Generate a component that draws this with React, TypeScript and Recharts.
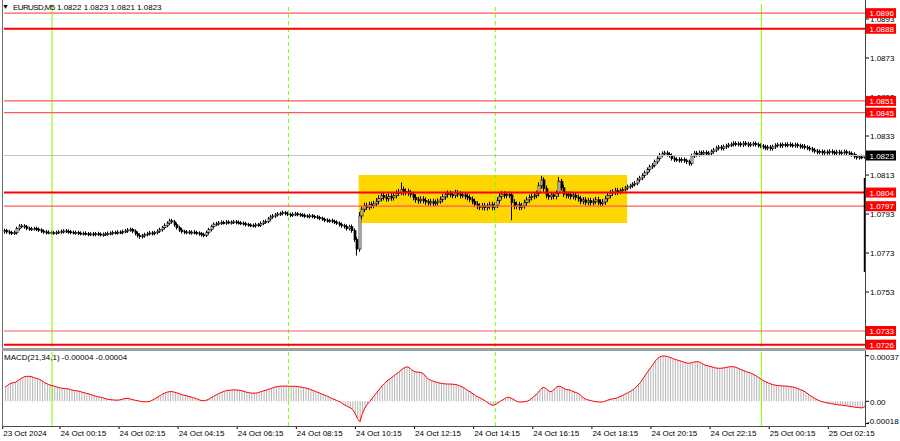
import React from 'react';
import { ComposedChart, Bar, Line, XAxis, YAxis, ReferenceLine, ReferenceArea } from 'recharts';

// EURUSD M5, first bar 23 Oct 22:25, last bar 25 Oct 03:30.
// Prices are kept in pips above 1.0700 (84.5 -> 1.07845).
const opens = [
  84.0, 84.5, 83.8, 83.5, 83.2, 83.4, 85.5, 86.8, 86.9, 86.5,
  85.6, 85.3, 85.4, 85.5, 85.2, 84.8, 84.2, 83.8, 83.5, 83.6,
  83.4, 83.3, 83.6, 83.8, 84.0, 84.3, 84.2, 83.9, 83.6, 83.4,
  83.5, 83.2, 83.0, 83.1, 82.9, 82.6, 82.8, 82.5, 82.9, 82.7,
  82.4, 82.6, 82.8, 83.0, 83.2, 83.5, 83.4, 83.7, 83.6, 84.0,
  84.3, 84.8, 85.0, 84.2, 83.0, 82.0, 81.4, 81.8, 82.5, 82.9,
  83.3, 83.0, 83.5, 84.2, 85.0, 86.0, 87.2, 88.3, 89.5, 89.0,
  87.5, 86.0, 84.8, 84.0, 83.6, 83.8, 83.4, 83.7, 83.5, 83.2,
  82.9, 82.4, 82.1, 83.5, 85.0, 86.5, 87.8, 88.0, 88.4, 88.7,
  88.5, 88.9, 88.6, 88.8, 89.0, 88.7, 88.5, 88.3, 88.0, 87.6,
  87.4, 87.2, 87.0, 87.5, 87.3, 88.2, 88.9, 89.2, 90.5, 91.5,
  92.0, 92.6, 93.0, 93.2, 93.7, 93.3, 92.8, 92.4, 92.9, 93.1,
  92.7, 92.5, 92.3, 92.0, 91.8, 92.1, 91.7, 91.5, 91.2, 90.8,
  90.3, 89.8, 89.5, 89.7, 89.2, 88.8, 88.3, 87.5, 87.0, 86.5,
  85.5, 86.5, 84.5, 80.0, 75.0, 92.0, 95.5, 97.2, 96.5, 97.8,
  97.3, 98.2, 99.5, 101.0, 102.5, 101.5, 100.8, 102.0, 101.3, 102.5,
  103.6, 104.2, 105.5, 104.0, 104.5, 103.8, 103.0, 101.5, 100.3, 99.8,
  100.6, 100.0, 99.2, 98.7, 99.3, 98.5, 98.9, 99.6, 100.5, 101.8,
  102.9, 103.5, 103.0, 102.6, 103.8, 103.2, 102.5, 102.8, 102.0, 101.5,
  100.5, 99.5, 98.0, 97.0, 96.5, 97.2, 96.3, 97.0, 97.8, 96.5,
  97.5, 100.0, 102.0, 103.2, 102.5, 103.0, 102.8, 99.0, 97.0, 97.8,
  96.5, 97.2, 98.8, 100.3, 101.5, 102.0, 102.6, 103.5, 107.5, 110.5,
  106.0, 102.5, 101.8, 102.8, 102.0, 103.5, 109.8, 106.5, 103.2, 102.5,
  103.0, 102.0, 102.7, 101.5, 100.8, 99.5, 100.2, 99.0, 99.8, 98.8,
  99.5, 100.3, 99.0, 98.3, 99.2, 100.8, 102.5, 103.8, 104.2, 104.9,
  104.3, 105.0, 105.6, 106.3, 107.0, 107.5, 108.2, 108.8, 110.5, 111.5,
  112.8, 114.2, 115.8, 117.2, 118.0, 119.8, 121.5, 123.2, 124.0, 124.3,
  123.6, 123.0, 121.5, 120.8, 121.0, 120.5, 120.9, 120.3, 119.8, 118.9,
  122.8, 124.2, 123.5, 124.4, 123.8, 124.6, 123.9, 124.2, 125.0, 125.8,
  126.8, 127.3, 126.7, 127.5, 128.0, 128.4, 128.7, 129.2, 128.8, 129.0,
  128.5, 129.3, 128.9, 128.4, 128.8, 129.1, 128.6, 128.2, 127.8, 127.4,
  126.8, 127.3, 126.6, 127.5, 128.2, 128.5, 128.0, 128.6, 128.3, 128.7,
  128.4, 128.1, 128.5, 128.0, 127.6, 127.8, 127.2, 126.8, 126.3, 125.8,
  125.2, 124.7, 125.0, 124.4, 124.8, 124.5, 125.1, 124.6, 124.3, 124.8,
  124.2, 124.6, 124.9, 124.3, 124.0, 123.5, 122.5, 122.0, 122.3, 122.2,
];

const highs = [
  85.5, 85.4, 84.8, 84.4, 84.5, 86.5, 87.8, 87.9, 87.8, 87.4,
  86.5, 86.4, 86.4, 86.5, 86.1, 85.7, 85.1, 84.8, 84.6, 84.5,
  84.3, 84.5, 84.7, 85.0, 85.2, 85.3, 85.1, 84.8, 84.5, 84.5,
  84.4, 84.1, 84.0, 84.1, 83.8, 83.7, 83.8, 83.8, 83.9, 83.6,
  83.5, 83.8, 84.0, 84.1, 84.5, 84.4, 84.7, 84.6, 85.0, 85.3,
  85.8, 86.0, 85.9, 85.1, 84.0, 83.0, 82.8, 83.4, 83.9, 84.3,
  84.3, 84.4, 85.1, 86.0, 86.9, 88.2, 89.3, 90.6, 90.5, 90.0,
  88.4, 87.0, 85.8, 84.9, 84.8, 84.7, 84.6, 84.7, 84.4, 84.1,
  83.8, 83.4, 84.4, 85.9, 87.5, 88.7, 89.0, 89.4, 89.7, 89.6,
  89.9, 89.8, 89.7, 90.0, 89.9, 89.7, 89.4, 89.2, 89.0, 88.5,
  88.3, 88.1, 88.5, 88.4, 89.2, 89.9, 90.2, 91.5, 92.5, 93.0,
  93.6, 94.0, 94.2, 94.7, 94.6, 94.2, 93.7, 93.9, 94.1, 94.0,
  93.6, 93.4, 93.3, 92.9, 93.1, 93.0, 92.6, 92.5, 92.1, 91.7,
  91.2, 90.8, 90.6, 90.7, 90.1, 89.8, 89.2, 88.6, 88.0, 87.6,
  87.5, 87.6, 85.6, 81.1, 94.0, 97.2, 98.8, 98.8, 99.4, 99.3,
  99.8, 101.2, 102.6, 104.4, 104.2, 103.2, 103.6, 103.7, 104.1, 105.2,
  105.9, 109.2, 107.1, 106.2, 106.0, 105.3, 104.5, 103.0, 101.8, 102.1,
  102.1, 101.5, 100.7, 100.8, 100.8, 100.4, 101.1, 102.0, 103.3, 104.4,
  105.1, 105.0, 104.5, 105.4, 105.3, 104.7, 104.3, 104.2, 103.5, 103.0,
  102.0, 101.0, 99.5, 98.5, 98.7, 98.7, 98.5, 99.3, 99.3, 99.0,
  101.6, 103.6, 104.8, 104.7, 104.5, 104.5, 104.3, 100.6, 99.4, 99.3,
  98.7, 100.3, 101.8, 103.0, 103.5, 104.1, 105.0, 109.3, 112.6, 111.8,
  107.6, 104.0, 104.3, 104.3, 105.1, 112.0, 111.0, 108.0, 104.7, 104.5,
  104.5, 104.2, 104.2, 103.0, 102.3, 101.7, 101.7, 101.3, 101.3, 101.0,
  101.8, 101.8, 100.5, 100.7, 102.3, 104.0, 105.3, 105.7, 106.4, 106.4,
  106.1, 106.7, 107.4, 108.1, 108.6, 109.3, 109.9, 111.6, 112.6, 113.9,
  115.3, 116.9, 118.3, 119.1, 120.9, 122.6, 124.3, 125.1, 125.4, 125.4,
  124.7, 124.1, 122.6, 122.1, 122.1, 122.0, 122.0, 121.4, 120.9, 123.9,
  125.3, 125.3, 125.5, 125.5, 125.7, 125.7, 125.3, 126.1, 126.9, 127.9,
  128.4, 128.4, 128.6, 129.1, 129.5, 129.8, 130.3, 130.3, 130.1, 130.1,
  130.4, 130.4, 130.0, 129.9, 130.2, 130.2, 129.7, 129.3, 128.9, 128.5,
  128.4, 128.4, 128.6, 129.3, 129.6, 129.6, 129.7, 129.7, 129.8, 129.8,
  129.5, 129.6, 129.6, 129.1, 128.9, 128.9, 128.3, 127.9, 127.4, 126.9,
  126.3, 126.1, 126.1, 125.9, 125.9, 126.2, 126.2, 125.7, 125.9, 125.9,
  125.7, 126.0, 126.0, 125.4, 125.1, 124.6, 123.6, 123.4, 123.4, 123.0,
];

const lows = [
  83.0, 82.8, 82.5, 82.2, 82.3, 82.5, 84.5, 85.8, 85.5, 84.7,
  84.4, 84.3, 84.5, 84.2, 83.8, 83.3, 82.9, 82.5, 82.6, 82.4,
  82.4, 82.3, 82.7, 82.9, 83.0, 83.3, 82.9, 82.6, 82.5, 82.4,
  82.2, 82.1, 82.0, 82.0, 81.6, 81.7, 81.5, 81.6, 81.7, 81.5,
  81.4, 81.7, 81.8, 82.1, 82.2, 82.5, 82.4, 82.7, 82.6, 83.1,
  83.3, 83.9, 83.2, 82.0, 81.0, 80.3, 80.4, 80.9, 81.5, 82.0,
  82.0, 82.1, 82.5, 83.3, 84.0, 85.1, 86.2, 87.4, 88.0, 86.5,
  85.0, 83.8, 83.0, 82.7, 82.6, 82.5, 82.4, 82.6, 82.2, 81.9,
  81.4, 81.1, 81.2, 82.5, 84.0, 85.6, 86.8, 87.1, 87.4, 87.6,
  87.5, 87.7, 87.6, 87.9, 87.7, 87.6, 87.3, 87.1, 86.6, 86.5,
  86.2, 86.1, 86.0, 86.4, 86.3, 87.3, 87.9, 88.3, 89.5, 90.6,
  91.0, 91.7, 92.0, 92.3, 92.3, 91.9, 91.4, 91.5, 91.9, 91.8,
  91.5, 91.4, 91.0, 90.9, 90.8, 90.8, 90.5, 90.3, 89.8, 89.4,
  88.8, 88.6, 88.5, 88.3, 87.8, 87.4, 86.5, 86.0, 85.5, 84.5,
  84.5, 83.4, 78.7, 71.7, 73.6, 90.4, 94.0, 95.0, 95.1, 95.9,
  95.9, 96.8, 98.0, 99.5, 100.0, 99.3, 99.4, 99.8, 99.9, 101.0,
  102.1, 102.7, 102.5, 102.6, 102.3, 101.5, 100.0, 98.8, 98.3, 98.4,
  98.5, 97.7, 97.2, 97.3, 97.0, 97.1, 97.4, 98.2, 99.0, 100.3,
  101.4, 101.5, 101.1, 101.1, 101.7, 101.0, 101.1, 100.5, 100.0, 99.0,
  98.0, 96.5, 95.5, 95.0, 95.0, 94.8, 94.8, 95.5, 94.9, 95.0,
  96.0, 98.5, 100.5, 101.0, 101.0, 101.3, 89.8, 95.4, 95.5, 95.0,
  95.0, 95.7, 97.3, 98.8, 100.0, 100.5, 101.1, 102.0, 106.0, 104.4,
  101.0, 100.3, 100.3, 100.5, 100.5, 102.0, 105.0, 101.7, 101.0, 101.0,
  100.5, 100.5, 100.0, 99.3, 98.0, 98.0, 97.5, 97.5, 97.3, 97.3,
  98.0, 97.5, 96.8, 96.8, 97.7, 99.3, 101.0, 102.3, 102.7, 102.8,
  103.2, 103.9, 104.5, 105.2, 105.9, 106.4, 107.1, 107.7, 109.4, 110.4,
  111.7, 113.1, 114.7, 116.1, 116.9, 118.7, 120.4, 122.1, 122.9, 122.5,
  121.9, 120.4, 119.7, 119.7, 119.4, 119.4, 119.2, 118.7, 117.8, 117.8,
  121.7, 122.4, 122.4, 122.7, 122.7, 122.8, 122.8, 123.1, 123.9, 124.7,
  125.7, 125.6, 125.6, 126.4, 126.9, 127.3, 127.6, 127.7, 127.7, 127.4,
  127.4, 127.8, 127.3, 127.3, 127.7, 127.5, 127.1, 126.7, 126.3, 125.7,
  125.7, 125.5, 125.5, 126.4, 127.1, 126.9, 126.9, 127.2, 127.2, 127.3,
  127.0, 127.0, 126.9, 126.5, 126.5, 126.1, 125.7, 125.2, 124.7, 124.1,
  123.6, 123.6, 123.3, 123.3, 123.4, 123.4, 123.5, 123.2, 123.2, 123.1,
  123.1, 123.5, 123.2, 122.9, 122.4, 121.4, 120.9, 120.9, 121.1, 121.4,
];

const closes = [
  84.5, 83.8, 83.5, 83.2, 83.4, 85.5, 86.8, 86.9, 86.5, 85.6,
  85.3, 85.4, 85.5, 85.2, 84.8, 84.2, 83.8, 83.5, 83.6, 83.4,
  83.3, 83.6, 83.8, 84.0, 84.3, 84.2, 83.9, 83.6, 83.4, 83.5,
  83.2, 83.0, 83.1, 82.9, 82.6, 82.8, 82.5, 82.9, 82.7, 82.4,
  82.6, 82.8, 83.0, 83.2, 83.5, 83.4, 83.7, 83.6, 84.0, 84.3,
  84.8, 85.0, 84.2, 83.0, 82.0, 81.4, 81.8, 82.5, 82.9, 83.3,
  83.0, 83.5, 84.2, 85.0, 86.0, 87.2, 88.3, 89.5, 89.0, 87.5,
  86.0, 84.8, 84.0, 83.6, 83.8, 83.4, 83.7, 83.5, 83.2, 82.9,
  82.4, 82.1, 83.5, 85.0, 86.5, 87.8, 88.0, 88.4, 88.7, 88.5,
  88.9, 88.6, 88.8, 89.0, 88.7, 88.5, 88.3, 88.0, 87.6, 87.4,
  87.2, 87.0, 87.5, 87.3, 88.2, 88.9, 89.2, 90.5, 91.5, 92.0,
  92.6, 93.0, 93.2, 93.7, 93.3, 92.8, 92.4, 92.9, 93.1, 92.7,
  92.5, 92.3, 92.0, 91.8, 92.1, 91.7, 91.5, 91.2, 90.8, 90.3,
  89.8, 89.5, 89.7, 89.2, 88.8, 88.3, 87.5, 87.0, 86.5, 85.5,
  86.5, 84.5, 80.0, 75.0, 92.0, 95.5, 97.2, 96.5, 97.8, 97.3,
  98.2, 99.5, 101.0, 102.5, 101.5, 100.8, 102.0, 101.3, 102.5, 103.6,
  104.2, 105.5, 104.0, 104.5, 103.8, 103.0, 101.5, 100.3, 99.8, 100.6,
  100.0, 99.2, 98.7, 99.3, 98.5, 98.9, 99.6, 100.5, 101.8, 102.9,
  103.5, 103.0, 102.6, 103.8, 103.2, 102.5, 102.8, 102.0, 101.5, 100.5,
  99.5, 98.0, 97.0, 96.5, 97.2, 96.3, 97.0, 97.8, 96.5, 97.5,
  100.0, 102.0, 103.2, 102.5, 103.0, 102.8, 99.0, 97.0, 97.8, 96.5,
  97.2, 98.8, 100.3, 101.5, 102.0, 102.6, 103.5, 107.5, 110.5, 106.0,
  102.5, 101.8, 102.8, 102.0, 103.5, 109.8, 106.5, 103.2, 102.5, 103.0,
  102.0, 102.7, 101.5, 100.8, 99.5, 100.2, 99.0, 99.8, 98.8, 99.5,
  100.3, 99.0, 98.3, 99.2, 100.8, 102.5, 103.8, 104.2, 104.9, 104.3,
  105.0, 105.6, 106.3, 107.0, 107.5, 108.2, 108.8, 110.5, 111.5, 112.8,
  114.2, 115.8, 117.2, 118.0, 119.8, 121.5, 123.2, 124.0, 124.3, 123.6,
  123.0, 121.5, 120.8, 121.0, 120.5, 120.9, 120.3, 119.8, 118.9, 122.8,
  124.2, 123.5, 124.4, 123.8, 124.6, 123.9, 124.2, 125.0, 125.8, 126.8,
  127.3, 126.7, 127.5, 128.0, 128.4, 128.7, 129.2, 128.8, 129.0, 128.5,
  129.3, 128.9, 128.4, 128.8, 129.1, 128.6, 128.2, 127.8, 127.4, 126.8,
  127.3, 126.6, 127.5, 128.2, 128.5, 128.0, 128.6, 128.3, 128.7, 128.4,
  128.1, 128.5, 128.0, 127.6, 127.8, 127.2, 126.8, 126.3, 125.8, 125.2,
  124.7, 125.0, 124.4, 124.8, 124.5, 125.1, 124.6, 124.3, 124.8, 124.2,
  124.6, 124.9, 124.3, 124.0, 123.5, 122.5, 122.0, 122.3, 122.2, 123.0,
];

// MACD(21,34,1) main value per bar, in units of 0.00001
const macdValues = [
  11.8, 13.0, 14.5, 15.0, 15.3, 16.5, 18.0, 19.2, 20.0, 20.3,
  20.2, 19.8, 19.0, 18.5, 17.8, 16.5, 15.2, 14.2, 13.4, 12.8,
  12.2, 11.6, 11.0, 10.6, 10.4, 10.3, 9.8, 9.2, 8.8, 8.5,
  8.2, 7.6, 7.0, 6.5, 6.0, 5.3, 4.6, 4.0, 3.6, 3.2,
  2.6, 2.0, 1.6, 1.3, 1.1, 1.0, 1.0, 1.4, 2.0, 2.4,
  2.4, 1.8, 1.2, 0.8, 0.4, 0.0, -0.3, -0.4, -0.3, 0.2,
  1.2, 2.4, 3.6, 4.8, 6.0, 7.0, 7.6, 7.9, 7.8, 7.3,
  6.6, 6.0, 5.3, 4.8, 4.3, 3.8, 3.2, 2.6, 1.8, 1.0,
  0.6, 0.5, 1.2, 2.2, 3.4, 4.6, 5.6, 6.6, 7.4, 8.2,
  8.8, 9.0, 9.2, 9.3, 9.2, 9.0, 8.6, 8.0, 7.4, 6.9,
  6.7, 6.6, 6.8, 7.3, 7.9, 8.6, 9.2, 9.8, 10.5, 11.2,
  11.8, 12.1, 12.3, 12.4, 12.4, 12.3, 12.2, 12.2, 12.1, 11.9,
  11.6, 11.2, 10.8, 10.3, 9.6, 8.8, 8.0, 7.2, 6.4, 5.6,
  4.8, 4.0, 3.0, 2.0, 1.2, 0.4, -0.6, -2.0, -3.2, -4.2,
  -5.2, -6.5, -9.5, -14.0, -16.5, -10.0, -5.5, -2.5, -0.2, 2.5,
  5.0, 7.5, 10.0, 12.5, 14.6, 16.5, 18.0, 19.5, 21.0, 22.5,
  24.0, 25.8, 27.2, 28.0, 27.5, 25.5, 24.2, 23.8, 23.6, 23.3,
  22.0, 19.5, 17.8, 17.0, 16.2, 15.5, 15.0, 14.6, 14.3, 14.1,
  14.0, 14.0, 13.8, 13.6, 13.0, 12.2, 11.2, 10.0, 8.6, 7.4,
  6.0, 4.6, 3.5, 2.6, 1.5, 0.2, -1.2, -2.5, -3.2, -2.6,
  -1.4, 0.0, 1.2, 2.4, 3.4, 3.0, 2.0, 0.8, -0.3, -0.6,
  -0.5, -0.2, 0.2, 1.2, 2.8, 4.6, 6.2, 8.5, 11.0, 11.3,
  9.5, 8.0, 7.8, 10.0, 11.8, 12.2, 11.5, 10.2, 9.5, 9.3,
  8.5, 7.6, 7.0, 6.0, 4.2, 2.5, 1.5, 1.0, 0.5, 0.0,
  -0.3, -0.5, -0.6, -0.3, 0.5, 1.2, 1.8, 2.2, 2.5, 3.3,
  4.2, 5.2, 6.2, 7.2, 8.2, 9.6, 11.4, 13.2, 15.5, 18.5,
  21.5, 24.5, 27.2, 30.0, 32.8, 35.0, 36.3, 36.8, 36.7, 36.2,
  35.6, 34.8, 34.0, 33.4, 32.8, 32.2, 31.5, 31.0, 30.9, 31.5,
  32.0, 32.2, 31.8, 30.6, 29.6, 28.9, 28.4, 27.9, 27.3, 26.9,
  26.8, 26.9, 27.2, 27.6, 28.0, 28.1, 28.0, 27.4, 26.4, 25.5,
  24.8, 24.0, 23.4, 22.7, 21.6, 20.5, 19.2, 17.8, 16.6, 15.6,
  14.8, 14.0, 13.4, 13.0, 12.8, 12.6, 12.4, 12.3, 12.2, 11.8,
  11.5, 11.0, 10.2, 9.4, 8.6, 7.4, 6.0, 4.5, 3.2, 2.0,
  1.0, 0.2, -0.5, -1.0, -1.4, -1.8, -2.1, -2.4, -2.7, -3.0,
  -3.2, -3.5, -3.8, -4.1, -4.4, -4.7, -5.0, -5.2, -5.3, -4.4,
];

const thickLevels = [1.0888, 1.0804, 1.0726];
const thinLevels = [1.0896, 1.0851, 1.0845, 1.0797, 1.0733];
const lastPrice = 1.0823;
const priceTicks = [1.0893, 1.0873, 1.0853, 1.0833, 1.0813, 1.0793, 1.0773, 1.0753];
const macdTicks = [0.00037, 0, -0.00018];

const dayLines = ['24 Oct 00:00', '25 Oct 00:00'];
const sessionLines = ['24 Oct 08:00', '24 Oct 15:00'];
const boxFrom = '24 Oct 10:25';
const boxTo = '24 Oct 19:25';
const boxTop = 1.0813;
const boxBottom = 1.07884;

const timeTicks = [
  '23 Oct 22:25', '24 Oct 00:15', '24 Oct 02:15', '24 Oct 04:15', '24 Oct 06:15',
  '24 Oct 08:15', '24 Oct 10:15', '24 Oct 12:15', '24 Oct 14:15', '24 Oct 16:15',
  '24 Oct 18:15', '24 Oct 20:15', '24 Oct 22:15', '25 Oct 00:15', '25 Oct 02:15',
];
const timeTickLabels = [
  '23 Oct 2024', '24 Oct 00:15', '24 Oct 02:15', '24 Oct 04:15', '24 Oct 06:15',
  '24 Oct 08:15', '24 Oct 10:15', '24 Oct 12:15', '24 Oct 14:15', '24 Oct 16:15',
  '24 Oct 18:15', '24 Oct 20:15', '24 Oct 22:15', '25 Oct 00:15', '25 Oct 02:15',
];

const FONT = "'Liberation Sans', Arial, sans-serif";
const GREEN = '#7cfc00';
const FIRST_BAR_MIN = 22 * 60 + 25; // 23 Oct 22:25

const pad = (n: number) => String(n).padStart(2, '0');
const barTime = (i: number) => {
  const m = FIRST_BAR_MIN + i * 5;
  const r = m % 1440;
  return `${23 + Math.floor(m / 1440)} Oct ${pad(Math.floor(r / 60))}:${pad(r % 60)}`;
};
const price = (pips: number) => 1.07 + pips / 10000;

const candles = closes.map((c, i) => ({
  time: barTime(i),
  open: price(opens[i]),
  high: price(highs[i]),
  low: price(lows[i]),
  close: price(c),
  range: [price(lows[i]), price(highs[i])],
}));

const macdData = macdValues.map((m, i) => ({ time: barTime(i), macd: m / 100000 }));
const lastTime = candles[candles.length - 1].time;

const Candle = (props: any) => {
  const { x, y, width, height, payload } = props;
  const top = Math.min(y, y + height);
  const h = Math.abs(height);
  const span = payload.high - payload.low || 1e-9;
  const yOf = (p: number) => top + ((payload.high - p) / span) * h;
  const cx = Math.round(x + width / 2);
  const b1 = yOf(Math.max(payload.open, payload.close));
  const b2 = yOf(Math.min(payload.open, payload.close));
  const bull = payload.close >= payload.open;
  return (
    <g>
      <line x1={cx - 0.5} x2={cx - 0.5} y1={top} y2={top + h} stroke="#000" strokeWidth={1} />
      <rect
        x={cx - 1}
        y={b1}
        width={2}
        height={Math.max(b2 - b1, 1)}
        fill={bull ? '#fff' : '#000'}
        stroke="#000"
        strokeWidth={0.7}
      />
    </g>
  );
};

const PriceTick = (props: any) => {
  const { x, y, payload } = props;
  const v = payload.value;
  const text = v.toFixed(4);
  if (v === lastPrice || thickLevels.includes(v) || thinLevels.includes(v)) {
    return (
      <g>
        <rect x={x} y={y - 5} width={30} height={10} fill={v === lastPrice ? '#000' : '#ff0000'} />
        <text x={x + 3.5} y={y + 3} fontSize={8} fontFamily={FONT} fill="#fff">{text}</text>
      </g>
    );
  }
  return (
    <g>
      <line x1={x} x2={x + 3} y1={y} y2={y} stroke="#000" />
      <text x={x + 4} y={y + 3} fontSize={8} fontFamily={FONT} fill="#000">{text}</text>
    </g>
  );
};

const MacdTick = (props: any) => {
  const { x, y, payload } = props;
  const v = payload.value;
  const text = v === 0 ? '0.00' : v.toFixed(5);
  const dy = v < 0 ? -2.5 : v > 0 ? 1 : 0.5;
  return (
    <g>
      <line x1={x} x2={x + 3} y1={y} y2={y} stroke="#000" />
      <text x={v < 0 ? x + 1 : x + 4} y={y + 3 + dy} fontSize={8} fontFamily={FONT} fill="#000">{text}</text>
    </g>
  );
};

const TimeTick = (props: any) => {
  const { x, y, payload } = props;
  const idx = timeTicks.indexOf(payload.value);
  const tx = idx === 0 ? x - 3 : x;
  return (
    <g>
      <line x1={tx + 0.5} x2={tx + 0.5} y1={y} y2={y + 3} stroke="#000" />
      <text x={tx + 1} y={y + 10} fontSize={8} fontFamily={FONT} fill="#000">{timeTickLabels[idx]}</text>
    </g>
  );
};

const abs = (style: React.CSSProperties): React.CSSProperties => ({ position: 'absolute', ...style });

export default function App() {
  return (
    <div style={{ position: 'absolute', left: 0, top: 0, width: 900, height: 441, background: '#fff', overflow: 'hidden', fontFamily: FONT }}>
      <div style={abs({ left: 0, top: 0 })}>
        <ComposedChart width={900} height={352} data={candles} margin={{ top: 4, right: 0, bottom: 5, left: 4 }} barCategoryGap={0}>
          <XAxis dataKey="time" hide />
          <YAxis
            orientation="right"
            width={34}
            domain={[1.07248, 1.09007]}
            allowDataOverflow
            ticks={[...priceTicks, ...thinLevels, ...thickLevels, lastPrice]}
            interval={0}
            tick={<PriceTick />}
            tickSize={0}
            tickMargin={0}
            axisLine={false}
            tickLine={false}
          />
          <ReferenceArea x1={boxFrom} x2={boxTo} y1={boxBottom} y2={boxTop} fill="#ffd700" fillOpacity={1} stroke="none" />
          <ReferenceLine y={lastPrice} stroke="#c4c4c4" strokeWidth={1} />
          {dayLines.map((t) => (
            <ReferenceLine key={t} x={t} stroke={GREEN} strokeWidth={1} />
          ))}
          {sessionLines.map((t) => (
            <ReferenceLine key={t} x={t} stroke={GREEN} strokeWidth={1} strokeDasharray="4 3" />
          ))}
          {thinLevels.map((v) => (
            <ReferenceLine key={v} y={v} stroke="#ff5a5a" strokeWidth={1.2} />
          ))}
          {thickLevels.map((v) => (
            <ReferenceLine key={v} y={v} stroke="#ff0000" strokeWidth={2} />
          ))}
          <Bar dataKey="range" shape={<Candle />} isAnimationActive={false} />
          <ReferenceLine
            segment={[{ x: lastTime, y: 1.08115 }, { x: lastTime, y: 1.07633 }]}
            stroke="#000"
            strokeWidth={2}
          />
        </ComposedChart>
      </div>

      <div style={abs({ left: 0, top: 352 })}>
        <ComposedChart width={900} height={89} data={macdData} margin={{ top: 0, right: 0, bottom: 0, left: 4 }}>
          <XAxis
            dataKey="time"
            height={15}
            ticks={timeTicks}
            interval={0}
            tick={<TimeTick />}
            tickSize={0}
            tickMargin={0}
            axisLine={false}
            tickLine={false}
          />
          <YAxis
            orientation="right"
            width={34}
            domain={[-0.0002, 0.0004]}
            allowDataOverflow
            ticks={macdTicks}
            interval={0}
            tick={<MacdTick />}
            tickSize={0}
            tickMargin={0}
            axisLine={false}
            tickLine={false}
          />
          {dayLines.map((t) => (
            <ReferenceLine key={t} x={t} stroke={GREEN} strokeWidth={1} />
          ))}
          {sessionLines.map((t) => (
            <ReferenceLine key={t} x={t} stroke={GREEN} strokeWidth={1} strokeDasharray="4 3" />
          ))}
          <Bar dataKey="macd" fill="#b4b4b4" barSize={1} isAnimationActive={false} />
          <Line dataKey="macd" type="linear" stroke="#ff0000" strokeWidth={1} dot={false} isAnimationActive={false} />
        </ComposedChart>
      </div>

      {/* window frame */}
      <div style={abs({ left: 2, top: 0, width: 1, height: 427, background: '#707070' })} />
      <div style={abs({ left: 865, top: 0, width: 1, height: 427, background: '#404040' })} />
      <div style={abs({ left: 2, top: 348, width: 864, height: 3, background: '#a0a0a0' })} />
      <div style={abs({ left: 2, top: 426, width: 864, height: 1, background: '#505050' })} />

      <div style={abs({ left: 2, top: 3, fontSize: 7, lineHeight: '8px', color: '#000' })}>▼</div>
      <div style={abs({ left: 13, top: 3, fontSize: 8, lineHeight: '10px', color: '#000', letterSpacing: -0.6, whiteSpace: 'pre' })}>
        EURUSD,M5
      </div>
      <div style={abs({ left: 57, top: 3, fontSize: 8, lineHeight: '10px', color: '#000', whiteSpace: 'pre' })}>
        1.0822 1.0823 1.0821 1.0823
      </div>
      <div style={abs({ left: 4, top: 353, fontSize: 8, lineHeight: '10px', color: '#000', whiteSpace: 'pre' })}>
        MACD(21,34,1) -0.00004 -0.00004
      </div>
    </div>
  );
}
